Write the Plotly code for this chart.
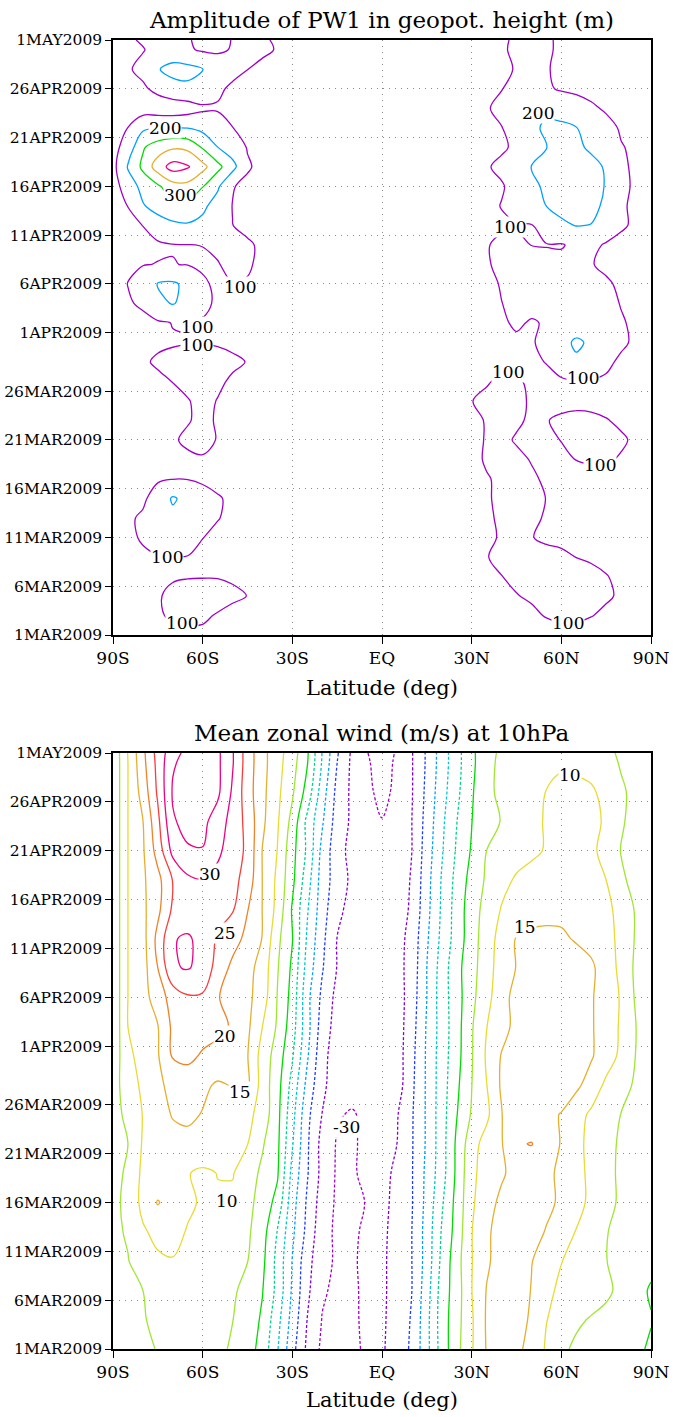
import plotly.graph_objects as go

# ---------------- data ----------------
lats = list(range(-90, 91, 5))
lat_tick_vals = [-90, -60, -30, 0, 30, 60, 90]
lat_tick_text = ["90S", "60S", "30S", "EQ", "30N", "60N", "90N"]

# days since 1 Mar 2009
date_tick_days = [0, 5, 10, 15, 20, 25, 31, 36, 41, 46, 51, 56, 61]
date_tick_text = ["1MAR2009", "6MAR2009", "11MAR2009", "16MAR2009", "21MAR2009", "26MAR2009",
                  "1APR2009", "6APR2009", "11APR2009", "16APR2009", "21APR2009", "26APR2009", "1MAY2009"]

# ---- PW1 amplitude (m), rows = days, columns = lats (-90..90 step 5)
amp_days = list(range(0, 61, 2)) + [61]
amp_rows = [
    [40,50,60,70,80,85,88,85,75,65,55,45,40, 35,32,30,28,26,25,26,28,30,33,38, 40,45,50,55,60,65,68,68,62,55,50,45,40],
    [40,50,65,92,110,115,110,95,80,65,55,45,40, 35,32,30,28,26,25,26,28,30,33,40, 45,55,65,75,85,105,120,118,103,85,70,55,45],
    [45,55,72,93,118,128,130,125,112,99,78,55,42, 35,32,30,28,26,25,26,28,30,35,45, 55,70,85,97,110,125,135,135,125,110,90,70,55],
    [50,62,75,85,92,96,97,97,92,85,70,55,42, 35,32,30,28,26,25,26,28,30,35,45, 60,80,99,115,125,130,130,128,120,103,85,65,55],
    [50,70,88,97,99,98,90,80,70,60,50,45,40, 35,32,30,28,26,25,26,28,30,38,55, 75,98,112,118,120,118,112,99,90,82,72,60,50],
    [60,85,108,125,135,130,101,85,70,58,50,45,40, 35,32,30,28,26,25,26,28,30,36,50, 70,90,105,112,102,90,85,80,75,68,60,52,45],
    [60,88,112,150,180,165,130,103,85,68,55,45,40, 35,32,30,28,26,25,26,28,30,36,50, 70,92,108,115,110,95,85,78,72,65,58,50,45],
    [55,68,85,140,210,175,125,106,88,70,55,45,40, 35,32,30,28,26,25,26,28,30,36,50, 72,95,110,118,115,99,88,80,72,65,58,50,45],
    [50,60,75,90,98,97,90,80,70,60,52,45,40, 35,32,30,28,26,25,26,28,30,36,50, 70,95,112,118,108,92,85,80,75,70,62,52,45],
    [45,55,65,75,85,92,96,90,75,62,52,45,40, 35,32,30,28,26,25,26,28,30,38,55, 80,108,118,112,97,85,92,101,108,106,95,80,65],
    [45,55,65,80,95,108,112,98,80,65,55,45,40, 35,32,30,28,26,25,26,28,30,38,55, 80,105,112,95,85,92,101,115,122,118,108,90,75],
    [45,52,62,75,88,97,110,96,82,68,56,47,40, 35,32,30,28,26,25,26,28,30,38,58, 82,105,115,108,92,98,108,115,112,103,90,78,65],
    [45,55,68,80,90,97,115,98,85,72,60,50,42, 35,32,30,28,26,25,26,28,30,40,70, 99,110,115,110,95,80,85,85,84,80,75,68,60],
    [45,60,75,88,101,115,120,110,92,78,65,52,42, 35,32,30,28,26,25,26,28,30,36,55, 80,96,108,106,92,85,90,95,95,92,85,75,62],
    [50,70,92,108,115,122,125,118,110,98,80,60,45, 35,32,30,28,26,25,26,28,30,35,48, 65,80,88,88,90,102,140,185,150,112,90,75,62],
    [50,65,80,90,95,97,97,95,88,78,65,52,42, 35,32,30,28,26,25,26,28,30,35,48, 62,75,85,90,95,115,170,215,185,140,110,90,70],
    [50,62,75,90,102,103,95,88,80,70,60,50,42, 35,32,30,28,26,25,26,28,30,35,46, 60,75,92,108,95,105,140,150,140,125,106,88,70],
    [60,90,115,180,205,175,115,90,78,68,58,48,42, 35,32,30,28,26,25,26,28,30,35,48, 62,80,99,115,118,120,130,140,135,120,97,80,65],
    [70,102,140,205,212,180,108,90,98,95,75,55,45, 36,32,30,28,26,25,26,28,30,35,48, 62,82,105,118,122,125,130,132,125,108,90,75,62],
    [60,82,97,102,102,97,92,96,120,108,85,62,48, 38,33,30,28,26,25,26,28,30,35,48, 60,95,112,118,122,120,118,112,103,88,75,65,58],
    [55,70,82,90,97,99,101,115,135,112,85,62,48, 38,33,30,28,26,25,26,28,30,36,50, 70,97,110,112,99,97,95,115,112,95,80,68,60],
    [50,75,101,140,180,190,175,140,101,78,62,50,42, 36,32,30,28,26,25,26,28,30,35,48, 62,80,92,95,96,140,185,203,198,135,110,88,70],
    [60,102,190,250,275,270,220,160,98,75,60,50,42, 36,32,30,28,26,25,26,28,30,35,48, 65,85,102,135,165,201,225,235,222,185,108,88,72],
    [75,130,240,285,360,370,305,215,105,80,62,50,42, 36,32,30,28,26,25,26,28,30,35,48, 65,82,95,120,180,215,240,245,230,195,112,92,72],
    [70,210,320,450,540,510,430,330,230,110,75,55,45, 38,33,30,28,26,25,26,28,30,36,52, 75,95,112,150,201,225,240,245,228,190,115,85,75],
    [70,140,290,350,385,375,290,201,150,95,70,55,45, 38,33,30,28,26,25,26,28,30,35,48, 60,75,92,110,150,199,225,218,185,150,105,85,70],
    [60,101,180,195,198,196,170,140,101,80,65,55,45, 38,33,30,28,26,25,26,28,30,35,48, 65,85,98,130,180,215,212,202,170,130,90,75,62],
    [40,50,55,45,40,55,85,92,80,65,55,48,42, 36,32,30,28,26,25,26,28,30,35,50, 70,95,115,135,160,180,175,150,115,88,70,60,52],
    [45,60,85,125,170,180,165,115,85,70,58,50,42, 36,32,30,28,26,25,26,28,30,35,46, 60,80,98,120,130,112,90,78,70,62,55,50,45],
    [60,90,125,195,225,228,201,150,125,101,80,60,45, 38,33,30,28,26,25,26,28,30,34,44, 55,70,85,105,125,105,85,72,65,58,52,48,44],
    [60,80,95,130,150,110,90,88,105,125,115,95,70, 50,38,32,28,26,25,26,28,30,34,44, 55,72,92,112,125,110,88,72,62,56,50,46,42],
    [60,88,110,130,140,105,85,85,102,120,110,90,65, 45,36,31,28,26,25,26,28,30,34,44, 55,70,90,110,125,110,88,72,62,56,50,46,42],
]
amp_levels = [100, 200, 300, 400, 500]
amp_colors = ["rgb(160,0,200)", "rgb(0,160,255)", "rgb(0,220,0)", "rgb(230,175,45)", "rgb(240,0,130)"]
amp_labels = [(-72.6, 52.0, "200"), (-67.6, 45.1, "300"), (-47.5, 35.7, "100"), (-62.0, 31.6, "100"),
              (-62.0, 29.7, "100"), (-72.0, 8.0, "100"), (-67.0, 1.2, "100"), (52.2, 53.5, "200"),
              (42.8, 41.8, "100"), (42.1, 27.0, "100"), (67.2, 26.3, "100"), (72.9, 17.4, "100"),
              (62.2, 1.2, "100")]

# ---- mean zonal wind at 10 hPa (m/s)
wind_days = list(range(0, 61, 3)) + [61]
wind_rows = [
    [1,2.5,3.7,5.3,7,8,7.8,6.3,4.3,2.2,-1.9,-9.6,-18.3, -26,-31,-32,-31.6,-28.75,-25.6,-22.6,-19.25,-11.5,-2.8,3.5, 9.5,15.3,17.5,16.4,13,9.5,6.2,3.9,3.2,2.5,1.8,0.7,-0.5],
    [1,2.5,4.5,6.6,7.8,8.3,8.2,7.2,5.1,2.6,-0.7,-8.3,-16.8, -25.1,-30.2,-31,-31,-28.8,-25.8,-22.8,-19.6,-11.5,-2.5,3.1, 9.4,15.5,17.8,17.3,14.2,10.1,8.7,6,4.5,3.3,2,1,0.2],
    [1,2.5,5,7,8.2,8.8,8.8,8,6,2.9,0.2,-6.4,-15.7, -24,-29.4,-31,-31,-28.7,-25.9,-23,-20,-12.2,-2.8,2.6, 9.9,15.2,17.5,17.8,14.8,10.7,9.4,8.7,7.9,6.2,3.5,1.2,-0.4],
    [3,4.8,7.5,9.1,9.7,9.8,9.3,8.2,7.2,5.1,1.2,-6.5,-15.2, -23.3,-28.5,-30.7,-30.7,-28.7,-25.9,-23,-20,-13,-3.8,3, 9.8,14.3,17,17.7,15.2,12.6,10.1,8.5,7,5.1,3.6,2,1],
    [4,5.5,9.3,11.5,11.8,9.6,8.8,8.2,7.5,5.8,2,-5.2,-14, -21.4,-28.4,-30.8,-31,-28.9,-26.1,-23.1,-20,-13,-4.6,2, 9.8,14.5,16.2,16.8,16.2,14.8,12.3,9.8,7.5,5.2,3.8,2.5,1.5],
    [4,6,11.5,15.3,13,11,9.3,9.6,9,6.6,2.8,-1.5,-13, -20.7,-27.5,-30.7,-31,-29.8,-26.4,-23.5,-20.3,-13.5,-5.7,1.7, 9.1,13.6,15.8,16.5,16.5,15.7,14.5,11.5,9,6.5,4.2,3,2],
    [4,5.5,11.2,11.5,11.8,10.2,9.2,10.1,10.3,7.3,4,0.6,-11.5, -19.6,-26.6,-30.6,-30.4,-29.2,-26.5,-24,-20.3,-13.8,-7.1,1, 8.9,12.1,14.5,16.3,17,16,14.1,11.5,8.9,6.3,4.2,3,2],
    [4,5,10.5,12.5,13.5,13.8,13.5,12.8,11.8,10.1,5.5,1.1,-9.6, -19.3,-26.7,-30.4,-30.4,-29.3,-26.7,-25,-20.4,-14.3,-7.2,0.9, 8,12,14.7,19.5,20.2,17.5,14.7,11.2,8.8,6.5,4.3,2.5,1.5],
    [3.5,6,10.2,13.2,15.3,15.8,14.8,13.7,12.7,11.4,7.9,1.5,-8.3, -18.7,-25.1,-29.6,-30.4,-29,-27,-25.4,-20.5,-14.3,-7.2,-0.2, 5.5,8.9,14.9,16.2,16.3,16,14.8,11.8,9.2,7,4.9,3.5,2.5],
    [3,7.5,11,14.3,16,16.5,15.8,14.5,15.2,16,7.8,1.9,-6.7, -16.5,-24.2,-27,-28.3,-29.2,-29.3,-27.5,-21,-14.3,-7.4,-1, 4.9,9.9,15.7,17,17.5,17.5,17.2,16,12.9,9,6.7,4.3,2.5],
    [2,8.5,12.4,14.6,20.5,21.5,19.3,18,16.6,15.2,7.9,2.8,-4.5, -14.4,-23.5,-27.5,-28.8,-29.5,-29.6,-27.5,-21.4,-14.3,-7.5,-1.8, 4.6,10.6,15.3,17.3,18,18.5,18.3,17.8,15.5,12.3,9,4.8,2.5],
    [1,10,12.5,14.8,21,22.5,22.5,21.5,19.4,16,10,4.4,-2.75, -13.3,-22.3,-27,-28.5,-29.5,-29.5,-27.5,-22,-14.5,-7.8,-2, 4.5,9.9,13.3,16.3,17.3,17.8,17.8,17.2,15.5,12.5,9.4,5,2.5],
    [1,10,13,17.6,22,24.5,24.3,20.2,18.7,16.2,12.5,4.8,-1.7, -13.6,-21.1,-26.5,-28,-29,-29,-27.5,-22.5,-15,-7.4,-2.1, 3.7,8.5,13,16.8,18,18.3,18,17.2,15.5,12.5,9.6,4.3,2.5],
    [1,10,13,20,29.6,30.3,28.8,22.8,18.9,16.6,13.1,5.4,-0.9, -12,-19.6,-25.2,-27,-28,-28,-26.8,-23,-15,-7.8,-1.5, 3,8.25,12,15.2,16.5,17,17,16.5,15.8,12.7,8.7,4,2.5],
    [1,10,13.2,21.5,29.8,30.4,29,24.25,21.75,18.8,14.8,6.25,0.2, -10.7,-18.75,-25.1,-27,-28,-28,-27,-23.2,-15.7,-8.75,-2.75, 2.75,7.7,11.8,15.3,15.8,15.8,15.5,14.7,13.5,12,8.5,4.5,2.5],
    [1,10,13.9,18.8,25.8,28,28,27,25.5,20.2,14.9,8.5,-0.5, -9.5,-17.8,-23.9,-26.5,-27.5,-28,-27.5,-24.2,-16.5,-9.3,-2.8, 2.7,6.8,10.3,12.2,13.5,14,14.2,14,13,11.5,8,4.5,2.5],
    [1,10,14.2,18.5,25.2,29,29.8,28.5,26.5,23,14.9,9,1.2, -7.8,-17.3,-22.5,-26,-27.5,-28.5,-27.5,-24.6,-16.9,-9.6,-3.4, 1.8,5.7,8.5,10.6,11.5,12,12.4,12.4,11.7,10,5.8,3.5,2],
    [1,10,14.4,22,31.5,34.5,34.8,31,27.6,24,14.8,9.9,1.7, -5.9,-16.5,-23.1,-26.5,-28,-29,-27.8,-25,-17.6,-10.5,-4.4, 0.5,5,6.5,8,9.2,10.3,11.3,11.5,10.8,8.7,4.8,3,2],
    [1,10,14.9,23.8,34.5,36.5,36.3,32.7,28.1,23.5,16,10.6,3.4, -6.3,-14.4,-22.4,-25.8,-28,-29.8,-28.1,-25,-18.2,-11.1,-5.1, -0.1,2.6,5.3,7.5,8.8,10.4,11.3,11.5,11,9.5,5.5,3.5,2],
    [1,10,17,25.8,35.5,37.5,38,36,29.3,22.3,16.3,11.2,5.7, -2,-12.6,-21.5,-26,-28.85,-31.5,-28.8,-25.3,-18.8,-12,-6.2, -0.5,3.4,6.5,8,9.2,10.05,10.8,11,10.6,8.75,5.8,3.5,2],
    [1,10,18.5,26.5,34.5,36.5,37.5,36,30.4,22.6,16.6,11.8,7, 0.3,-10.5,-20,-26,-29.3,-32.5,-29,-25.3,-19.3,-12.6,-6.8, -1,3,6.5,8.5,9.3,9.6,9.6,9.2,8.5,7,4.5,3,2],
    [1,10.2,18.8,26.9,33.1,36.5,37.5,36,30.4,22.6,16.6,11.8,7.5, 0.7,-10.2,-19.5,-25.8,-29.8,-33,-29.4,-25.3,-19.3,-12.6,-6.8, -1,3.1,6,7.5,8.3,8.8,9,8.5,7.8,6.5,4,2.5,1.5],
]
wind_levels = [-30, -25, -20, -15, -10, -5, 0, 5, 10, 15, 20, 25, 30, 35]
wind_colors = ["rgb(160,0,200)", "rgb(130,0,220)", "rgb(30,60,255)", "rgb(0,160,255)", "rgb(0,200,200)",
               "rgb(0,210,140)", "rgb(0,220,0)", "rgb(160,230,50)", "rgb(230,220,50)", "rgb(230,175,45)",
               "rgb(240,130,40)", "rgb(250,60,60)", "rgb(240,0,130)", "rgb(240,0,130)"]
wind_labels = [(-57.5, 48.6, "30"), (-52.5, 42.6, "25"), (-52.5, 32.0, "20"), (-47.5, 26.3, "15"),
               (-51.9, 15.1, "10"), (-11.8, 22.7, "-30"), (47.8, 43.2, "15"), (62.9, 58.8, "10")]

# ---------------- figure ----------------
W, H = 682, 1417
FONT = "DejaVu Serif"
fig = go.Figure()


def add_contours(z, ydays, levels, colors, xa, ya):
    for lev, col in zip(levels, colors):
        fig.add_trace(go.Contour(
            x=lats, y=ydays, z=z, xaxis=xa, yaxis=ya,
            autocontour=False,
            contours=dict(start=lev, end=lev, size=1000, coloring="none", showlabels=False),
            line=dict(color=col, width=1.3, smoothing=1.0,
                      dash="3px,2px" if lev < 0 else "solid"),
            showscale=False, hoverinfo="skip"))


add_contours(amp_rows, amp_days, amp_levels, amp_colors, "x", "y")
add_contours(wind_rows, wind_days, wind_levels, wind_colors, "x2", "y2")

xdom = [113 / W, 651 / W]
top_dom = [1 - 635 / H, 1 - 40 / H]
bot_dom = [1 - 1349 / H, 1 - 753 / H]

xcommon = dict(range=[-90, 90], tickmode="array", tickvals=lat_tick_vals, ticktext=lat_tick_text,
               ticks="outside", ticklen=7, tickcolor="black", showline=True, linecolor="black",
               linewidth=1.5, mirror=True, showgrid=True, gridcolor="#8a8a8a", griddash="1px,5px",
               gridwidth=1, zeroline=False, automargin=False,
               tickfont=dict(family=FONT, size=17, color="black"), domain=xdom)
ycommon = dict(range=[0, 61], tickmode="array", tickvals=date_tick_days, ticktext=date_tick_text,
               ticks="outside", ticklen=6, tickcolor="black", showline=True, linecolor="black",
               linewidth=1.5, mirror=True, showgrid=True, gridcolor="#8a8a8a", griddash="1px,5px",
               gridwidth=1, zeroline=False, automargin=False,
               tickfont=dict(family=FONT, size=15.5, color="black"))

fig.update_layout(
    width=W, height=H, margin=dict(l=0, r=0, t=0, b=0, autoexpand=False),
    paper_bgcolor="white", plot_bgcolor="white", showlegend=False,
    xaxis=dict(**xcommon, anchor="y"),
    yaxis=dict(**ycommon, domain=top_dom, anchor="x"),
    xaxis2=dict(**xcommon, anchor="y2"),
    yaxis2=dict(**ycommon, domain=bot_dom, anchor="x2"),
)

ann = []
for (lx, ly, t) in amp_labels:
    ann.append(dict(x=lx, y=ly, xref="x", yref="y", text=t, showarrow=False, bgcolor="white",
                    borderpad=0, font=dict(family=FONT, size=17, color="black")))
for (lx, ly, t) in wind_labels:
    ann.append(dict(x=lx, y=ly, xref="x2", yref="y2", text=t, showarrow=False, bgcolor="white",
                    borderpad=0, font=dict(family=FONT, size=17, color="black")))

titles = [("Amplitude of PW1 in geopot. height (m)", 20, 23), ("Latitude (deg)", 688, 21),
          ("Mean zonal wind (m/s) at 10hPa", 733, 23), ("Latitude (deg)", 1400, 21)]
for t, ypx, fs in titles:
    ann.append(dict(x=382 / W, y=1 - ypx / H, xref="paper", yref="paper", text=t, showarrow=False,
                    xanchor="center", yanchor="middle", font=dict(family=FONT, size=fs, color="black")))
fig.update_layout(annotations=ann)

fig.write_html("out.html")
